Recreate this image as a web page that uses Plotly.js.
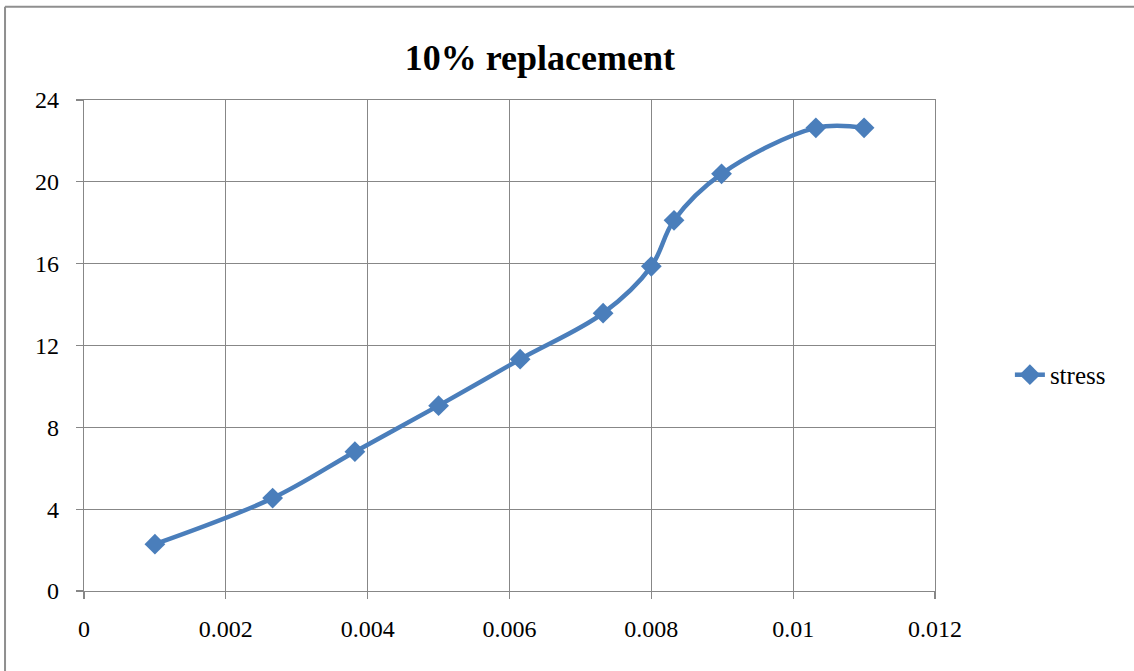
<!DOCTYPE html>
<html>
<head>
<meta charset="utf-8">
<script src="https://cdn.plot.ly/plotly-3.0.1.min.js"></script>
<style>
  html, body { margin: 0; padding: 0; background: #ffffff; }
  #chart { width: 1134px; height: 671px; }
</style>
</head>
<body>
<div id="chart"></div>
<script>
// Data
const strain = [0.001, 0.00266, 0.00382, 0.005, 0.00615, 0.00732, 0.008, 0.00832, 0.00899, 0.01032, 0.011];
const stress = [2.29, 4.54, 6.81, 9.06, 11.33, 13.58, 15.87, 18.12, 20.39, 22.64, 22.64];
const seriesName = "stress";
const chartTitle = "10% replacement";
const xTicks = [0, 0.002, 0.004, 0.006, 0.008, 0.01, 0.012];
const xTickText = ["0", "0.002", "0.004", "0.006", "0.008", "0.01", "0.012"];
const yTicks = [0, 4, 8, 12, 16, 20, 24];

const serif = "Liberation Serif";
const gridCol = "#878787";
const blue = "#4A7EBB";

const trace = {
  x: strain,
  y: stress,
  name: seriesName,
  type: "scatter",
  mode: "lines+markers",
  line: { color: blue, width: 4.5, shape: "spline", smoothing: 1 },
  marker: { symbol: "diamond", size: 16, color: blue, line: { width: 0 } },
  cliponaxis: false
};

const layout = {
  width: 1134,
  height: 671,
  margin: { l: 84, r: 199, t: 100, b: 80, pad: 0 },
  paper_bgcolor: "#ffffff",
  plot_bgcolor: "#ffffff",
  font: { family: serif, size: 24, color: "#000000" },
  title: {
    text: "<b>" + chartTitle + "</b>",
    font: { family: serif, size: 36, color: "#000000" },
    x: 0.476, xanchor: "center",
    y: 0.914, yanchor: "middle",
    xref: "container", yref: "container"
  },
  xaxis: {
    range: [0, 0.012],
    tickvals: xTicks,
    ticktext: xTickText,
    showgrid: true,
    gridcolor: gridCol,
    gridwidth: 1.3,
    showline: true,
    linecolor: gridCol,
    linewidth: 1.3,
    mirror: true,
    ticks: "outside",
    ticklen: 7,
    tickwidth: 1.3,
    tickcolor: gridCol,
    ticklabelstandoff: 9,
    zeroline: false,
    tickfont: { family: serif, size: 24, color: "#000" }
  },
  yaxis: {
    range: [0, 24],
    tickvals: yTicks,
    showgrid: true,
    gridcolor: gridCol,
    gridwidth: 1.3,
    showline: true,
    linecolor: gridCol,
    linewidth: 1.3,
    mirror: true,
    ticks: "outside",
    ticklen: 7,
    tickwidth: 1.3,
    tickcolor: gridCol,
    ticklabelstandoff: 12,
    zeroline: false,
    tickfont: { family: serif, size: 24, color: "#000" }
  },
  showlegend: true,
  legend: {
    x: 1.088, xanchor: "left",
    y: 0.44, yanchor: "middle",
    font: { family: serif, size: 25, color: "#000" },
    bgcolor: "rgba(0,0,0,0)",
    borderwidth: 0
  },
  shapes: [
    { type: "line", xref: "paper", yref: "paper", x0: -0.0928, x1: -0.0928, y0: 1.19, y1: -0.2,
      line: { color: "#8f8f8f", width: 2 } },
    { type: "line", xref: "paper", yref: "paper", x0: -0.0928, x1: 1.25, y0: 1.19, y1: 1.19,
      line: { color: "#8f8f8f", width: 2 } }
  ]
};

Plotly.newPlot("chart", [trace], layout, { displayModeBar: false, staticPlot: true });
</script>
</body>
</html>
